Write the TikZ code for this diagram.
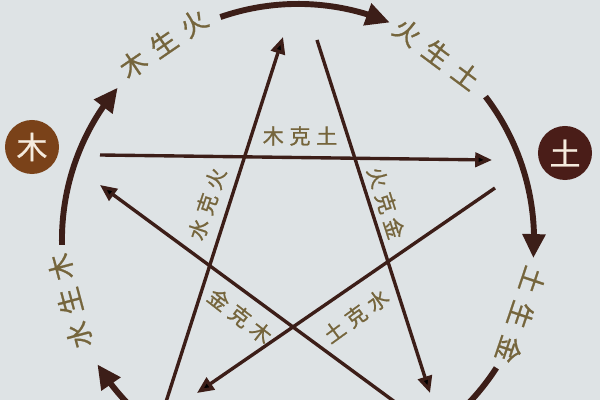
\documentclass[tikz,border=0pt]{standalone}
\usepackage{fontspec}
\newfontfamily\cjk[FakeBold=0.8]{Noto Sans CJK SC}
\usepackage{tikz}
\usetikzlibrary{positioning,arrows.meta,bending}
\definecolor{bg}{HTML}{DEE3E5}
\definecolor{brn}{HTML}{3C1E18}
\definecolor{ink}{HTML}{75653C}
\definecolor{wood}{HTML}{7A4219}
\definecolor{earth}{HTML}{4A1D18}
\definecolor{cream}{HTML}{F5EBDD}

\begin{document}
\begin{tikzpicture}[x=0.025cm,y=0.025cm,
   >={Triangle[length=0.42cm,width=0.36cm]},
   keline/.style={draw=brn,line width=2.4pt,->},
   ring/.style={draw=brn,line width=4.2pt,-{Triangle[length=0.6cm,width=0.55cm,flex]}},
   elem/.style={circle,fill=#1,text=cream,minimum size=1.35cm,inner sep=0pt,font=\cjk\fontsize{22}{22}\selectfont},
   ringtext/.style={text=ink,inner sep=0pt,font=\cjk\fontsize{19}{19}\selectfont},
   ketext/.style={text=ink,inner sep=1pt,font=\cjk\fontsize{15}{15}\selectfont}]
   \useasboundingbox (0,0) rectangle (600,400);
   \fill[bg] (0,0) rectangle (600,400);
   \clip (0,0) rectangle (600,400);
   \coordinate (C) at (298,160);

   \node[elem=wood] (mu) at (32,253) {木};
   \node[elem=earth] (tu) at (565,247) {土};

   % sheng: the outer ring
   \draw[ring] ([shift={(109.2:5.9cm)}]C) arc[start angle=109.2,end angle=67.1,radius=5.9cm];
   \draw[ring] ([shift={(37.4:5.9cm)}]C) arc[start angle=37.4,end angle=-4.4,radius=5.9cm];
   \draw[ring] ([shift={(-32.8:5.9cm)}]C) arc[start angle=-32.8,end angle=-76,radius=5.9cm];
   \draw[ring] ([shift={(-104:5.9cm)}]C) arc[start angle=-104,end angle=-148.2,radius=5.9cm];
   \draw[ring] ([shift={(181.2:5.9cm)}]C) arc[start angle=181.2,end angle=139.8,radius=5.9cm];

   \node[ringtext,rotate=34.4] (muhuo) at ([shift={(124.4:5.95cm)}]C) {木\hspace{7pt}生\hspace{7pt}火};
   \node[ringtext,rotate=-36.7] (huotu) at ([shift={(53.3:5.8cm)}]C) {火\hspace{7pt}生\hspace{7pt}土};
   \node[ringtext,rotate=-108.6] (tujin) at ([shift={(-18.6:5.88cm)}]C) {土\hspace{7pt}生\hspace{7pt}金};
   \node[ringtext,rotate=105] (shuimu) at ([shift={(195:5.9cm)}]C) {水\hspace{6pt}生\hspace{6pt}木};

   % ke: the star
   \coordinate (mu_o) at (100,245);   \coordinate (tu_i) at (492,240);
   \coordinate (huo_o) at (317,360);  \coordinate (jin_i) at (430,7);
   \coordinate (tu_o) at (495,212);   \coordinate (shui_i) at (197,7);
   \coordinate (shui_o) at (165,-5);  \coordinate (huo_i) at (283,363);
   \coordinate (jin_o) at (399,-5);   \coordinate (mu_i) at (100,215);

   \path[keline]
   (mu_o) edge (tu_i)
   (huo_o) edge (jin_i)
   (tu_o) edge (shui_i)
   (shui_o) edge (huo_i)
   (jin_o) edge (mu_i);

   \node[ketext] (mutu) at (300,264) {木\hspace{4pt}克\hspace{4pt}土};
   \node[ketext,rotate=-72.2] (huojin) at (386,197) {火\hspace{4pt}克\hspace{4pt}金};
   \node[ketext,rotate=71.4] (shuihuo) at (207,196) {水\hspace{4pt}克\hspace{4pt}火};
   \node[ketext,rotate=-38] (jinmu) at (240,84) {金\hspace{4pt}克\hspace{4pt}木};
   \node[ketext,rotate=36] (tushui) at (356,84) {土\hspace{4pt}克\hspace{4pt}水};
\end{tikzpicture}
\end{document}
